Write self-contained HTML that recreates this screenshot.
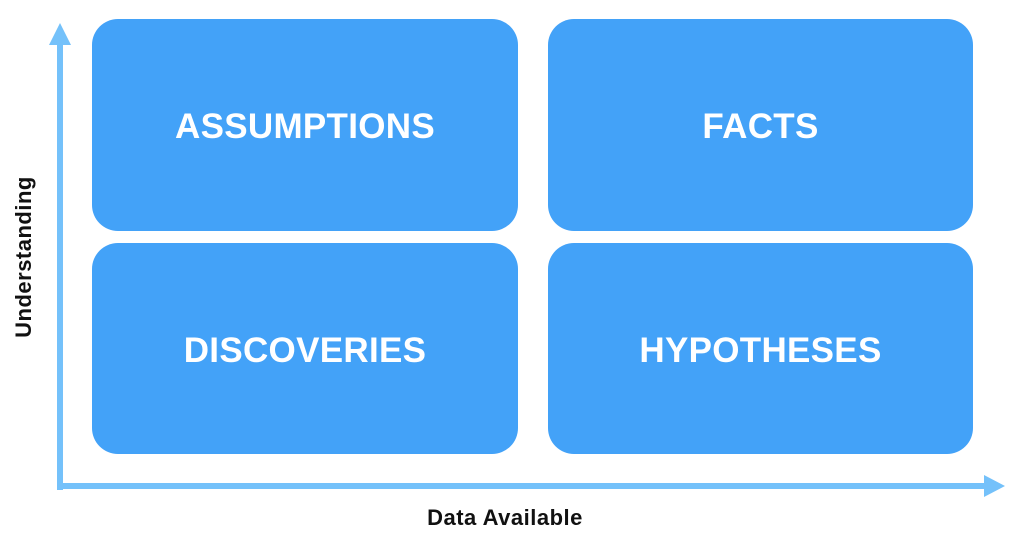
<!DOCTYPE html>
<html><head><style>
body{margin:0;width:1024px;height:539px;background:#fff;position:relative;overflow:hidden;font-family:"Liberation Sans",sans-serif}
.b{position:absolute;background:#43a2f8;border-radius:26px;color:#fff;font-weight:bold;font-size:35px;display:flex;align-items:center;justify-content:center;letter-spacing:0.3px;padding-top:4px;box-sizing:border-box}
.t{position:absolute;font-weight:bold;color:#111;font-size:22px;letter-spacing:0.5px}
</style></head><body>
<svg width="1024" height="539" style="position:absolute;left:0;top:0">
<rect x="57" y="40" width="6" height="450" fill="#74c1fa"/>
<polygon points="60,23 49,45 71,45" fill="#74c1fa"/>
<rect x="57" y="483" width="930" height="6" fill="#74c1fa"/>
<polygon points="1005,486 984,475 984,497" fill="#74c1fa"/>
</svg>
<div class="b" style="left:92px;top:19px;width:426px;height:212px">ASSUMPTIONS</div>
<div class="b" style="left:548px;top:19px;width:425px;height:212px">FACTS</div>
<div class="b" style="left:92px;top:243px;width:426px;height:211px">DISCOVERIES</div>
<div class="b" style="left:548px;top:243px;width:425px;height:211px">HYPOTHESES</div>
<div class="t" style="left:0;top:505px;width:1010px;text-align:center">Data Available</div>
<div class="t" style="left:24px;top:257px;transform:translate(-50%,-50%) rotate(-90deg);white-space:nowrap">Understanding</div>
</body></html>
